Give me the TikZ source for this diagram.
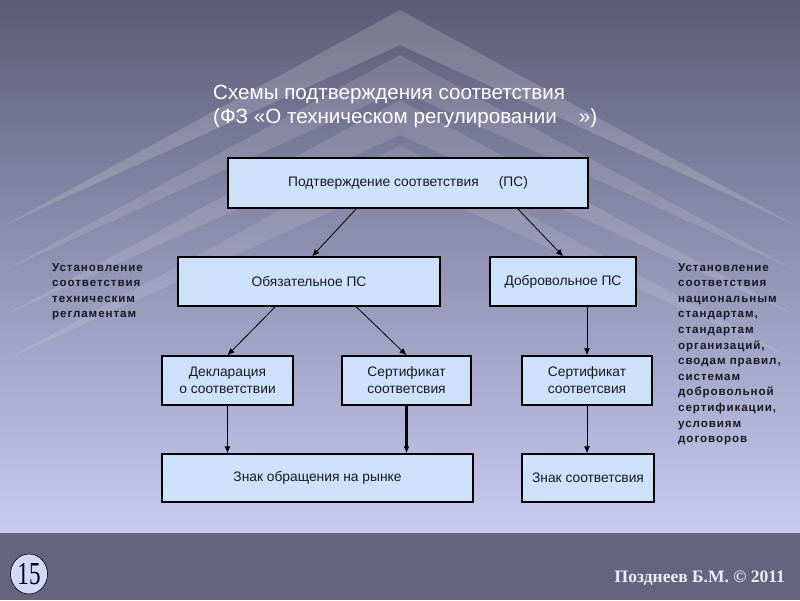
\documentclass[tikz,border=0pt]{standalone}
\usepackage{fontspec}
\setmainfont{Liberation Sans}
\newfontfamily\sidefont[LetterSpace=8]{Liberation Sans}
\newfontfamily\footfont{Liberation Serif}
\newfontfamily\numfont[FakeStretch=0.72]{Liberation Serif}
\usetikzlibrary{arrows.meta, positioning, shapes.geometric}
\definecolor{bgtop}{RGB}{92,92,120}
\definecolor{bgbot}{RGB}{202,202,242}
\definecolor{footbg}{RGB}{100,100,126}
\definecolor{boxfill}{RGB}{205,225,250}
\definecolor{boxtext}{RGB}{25,25,35}
\definecolor{numfill}{RGB}{214,214,250}
\definecolor{foottext}{RGB}{236,236,246}
\tikzset{
    box/.style={draw=black, line width=1.5pt, fill=boxfill, text=boxtext,
        font=\fontsize{13.8}{17}\selectfont, align=center, inner sep=0pt},
    conn/.style={-{Latex[length=7pt,width=6pt]}, line width=0.8pt},
    connthick/.style={conn, line width=2.2pt},
    sidetext/.style={font=\sidefont\bfseries\fontsize{11.6}{15.6}\selectfont,
        align=left, anchor=north west, inner sep=0pt, text=boxtext},
    titletext/.style={font=\fontsize{20.6}{24}\selectfont, text=white,
        align=left, anchor=north west, inner sep=0pt},
    chevband/.style={fill=white, fill opacity=#1},
    chevband/.default={0.15}
}

\begin{document}
\begin{tikzpicture}[x=1pt, y=-1pt]
    \useasboundingbox (0,0) rectangle (800,600);
    % background
    \shade[top color=bgtop, bottom color=bgbot] (0,0) rectangle (800,533);
    \foreach \y/\o in {10/0.16, 55/0.12, 100/0.12, 145/0.10}{
        \fill[chevband=\o] (5,\y+215) -- (400,\y) -- (795,\y+215) -- (400,\y+35) -- cycle;
    }
    \fill[footbg] (0,533) rectangle (800,600);

    \node[titletext] (title) at (213,85)
        {Схемы подтверждения соответствия\\(ФЗ «О техническом регулировании\hspace{22pt}»)};

    \node[box, minimum width=360pt, minimum height=50pt] (ps) at (408,183)
        {Подтверждение соответствия\hspace{20pt}(ПС)};
    \node[box, minimum width=262pt, minimum height=49pt] (obyaz) at (309,281.5) {Обязательное ПС};
    \node[box, minimum width=146pt, minimum height=49pt] (dobr) at (563,281.5) {Добровольное ПС};
    \node[box, minimum width=131pt, minimum height=49pt] (decl) at (227.5,380.5) {Декларация\\о соответствии};
    \node[box, minimum width=129pt, minimum height=49pt] (sert) at (406.5,380.5) {Сертификат\\соответсвия};
    \node[box, minimum width=130pt, minimum height=49pt] (sertd) at (587,380.5) {Сертификат\\соответсвия};
    \node[box, minimum width=311pt, minimum height=48pt] (znak) at (317.5,478) {Знак обращения на рынке};
    \node[box, minimum width=132pt, minimum height=48pt] (znakd) at (588,478) {Знак соответсвия};

    \draw[conn] ([xshift=129pt]ps.south west) -- ([xshift=135pt]obyaz.north west);
    \draw[conn] ([xshift=-71pt]ps.south east) -- (dobr.north);
    \draw[conn] ([xshift=98pt]obyaz.south west) -- (decl.north);
    \draw[conn] ([xshift=179pt]obyaz.south west) -- (sert.north);
    \draw[conn] (sertd.north |- dobr.south) -- (sertd.north);
    \draw[conn] (decl.south) -- (decl.south |- znak.north);
    \draw[connthick] (sert.south) -- (sert.south |- znak.north);
    \draw[conn] (sertd.south) -- (sertd.south |- znakd.north);

    \node[sidetext] (leftnote) at (52,263)
        {Установление\\соответствия\\техническим\\регламентам};
    \node[sidetext] (rightnote) at (678,263)
        {Установление\\соответствия\\национальным\\стандартам,\\стандартам\\организаций,\\сводам правил,\\системам\\добровольной\\сертификации,\\условиям\\договоров};

    % footer
    \node[draw=black, line width=0.6pt, fill=numfill, ellipse, minimum width=37pt,
        minimum height=40pt, inner sep=0pt, font=\numfont\fontsize{32}{32}\selectfont] (pagenum) at (29,574) {15};
    \node[font=\footfont\bfseries\fontsize{17.5}{17.5}\selectfont, text=foottext, anchor=east,
        inner sep=0pt] (author) at (785,578) {Позднеев Б.М. © 2011};
\end{tikzpicture}
\end{document}
